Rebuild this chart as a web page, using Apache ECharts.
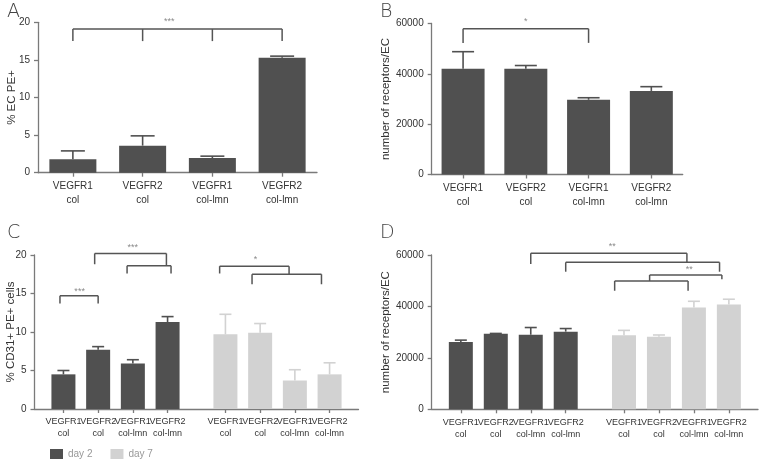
<!DOCTYPE html>
<html><head><meta charset="utf-8">
<script src="https://cdn.jsdelivr.net/npm/echarts@6/dist/echarts.min.js"></script>
<style>html,body{margin:0;padding:0;background:#fff}#c{width:759px;height:460px}</style>
</head><body><div id="c"></div>
<script>
// ---------- data ----------
const catsAB = ['VEGFR1\ncol', 'VEGFR2\ncol', 'VEGFR1\ncol-lmn', 'VEGFR2\ncol-lmn'];
const aMean  = [1.8, 3.6, 1.95, 15.3];
const aUpper = [2.9, 4.9, 2.2, 15.5];
const bMean  = [42000, 42000, 29700, 33200];
const bUpper = [48800, 43300, 30500, 34900];
const cDay2      = [4.5, 7.7, 5.9, 11.3];
const cDay2Upper = [5.0, 8.1, 6.4, 12.0];
const cDay7      = [9.7, 9.9, 3.7, 4.5];
const cDay7Upper = [12.3, 11.1, 5.1, 6.0];
const dDay2      = [26200, 29400, 29000, 30200];
const dDay2Upper = [26900, 29500, 31800, 31400];
const dDay7      = [28800, 28200, 39600, 40800];
const dDay7Upper = [30700, 28900, 42000, 42800];
const ticksPct = [0, 5, 10, 15, 20];
const ticksRec = [0, 20000, 40000, 60000];
const seriesNames = ['day 2', 'day 7'];
// group layout for C/D (slot index of each bar on a 28-slot category axis)
const slotsDay2 = [2, 5, 8, 11];
const slotsDay7 = [16, 19, 22, 25];
const nSlots = 28;
// significance brackets: [xFrom, xTo, yTop, [[xFoot, yFootBottom], ...]]
const bracketsA = [[0, 3, 19.1, [[0, 17.5], [1, 17.5], [2, 17.5], [3, 17.5]]]];
const starsA = [['***', 1.38, 20.1]];
const bracketsB = [[0, 2, 57900, [[0, 52300], [2, 52300]]]];
const starsB = [['*', 1.0, 60900]];
const bracketsC = [
  [1.7, 5.0, 14.7, [[1.7, 13.7], [5.0, 13.7]]],
  [4.7, 10.9, 20.2, [[4.7, 18.8], [10.9, 18.6]]],
  [7.5, 11.3, 18.6, [[7.5, 17.6], [11.3, 17.6]]],
  [15.5, 21.5, 18.55, [[15.5, 17.6], [21.5, 17.5]]],
  [18.3, 24.3, 17.5, [[18.3, 16.2], [24.3, 16.2]]]
];
const starsC = [['***', 3.4, 15.2], ['***', 8.0, 21.0], ['*', 18.6, 19.4]];
const bracketsD = [
  [8.0, 21.4, 60660, [[8.0, 56500], [21.4, 57160]]],
  [11.0, 24.2, 57160, [[11.0, 53500], [24.2, 53500]]],
  [18.2, 24.4, 52220, [[18.2, 49900], [24.4, 50550]]],
  [15.2, 21.5, 49900, [[15.2, 46100], [21.5, 46100]]]
];
const starsD = [['**', 15.0, 63300], ['**', 21.6, 54500]];

// ---------- helpers ----------
const DARK = '#505050', LIGHT = '#d2d2d2', AXIS = '#7a7a7a', TXT = '#333';
const FONT = "'Liberation Sans', Arial, sans-serif";

function slotCats(labels) {
  const cats = new Array(nSlots).fill('');
  slotsDay2.forEach((s, i) => cats[s] = labels[i]);
  slotsDay7.forEach((s, i) => cats[s] = labels[i]);
  return cats;
}
function slotData(slots, vals) {
  const d = new Array(nSlots).fill(null);
  slots.forEach((s, i) => d[s] = vals[i]);
  return d;
}
function xpix(api, s) {
  const i = Math.floor(s);
  const p0 = api.coord([i, 0])[0];
  const p1 = api.coord([i + 1, 0])[0];
  return p0 + (s - i) * (p1 - p0);
}
function errSeries(gi, xs, mean, upper, capHalf, color) {
  return {
    type: 'custom', xAxisIndex: gi, yAxisIndex: gi, silent: true, z: 3,
    data: xs.map((x, i) => [x, mean[i], upper[i]]),
    encode: {x: 0, y: [1, 2]},
    renderItem: (params, api) => {
      const a = api.coord([api.value(0), api.value(1)]);
      const b = api.coord([api.value(0), api.value(2)]);
      const st = {stroke: color, lineWidth: 1.6};
      return {type: 'group', children: [
        {type: 'line', shape: {x1: a[0], y1: a[1], x2: b[0], y2: b[1]}, style: st},
        {type: 'line', shape: {x1: b[0] - capHalf, y1: b[1], x2: b[0] + capHalf, y2: b[1]}, style: st}
      ]};
    }
  };
}
function bracketSeries(gi, brackets, stars) {
  const n = brackets.length;
  return {
    type: 'custom', xAxisIndex: gi, yAxisIndex: gi, silent: true, z: 4, clip: false,
    data: brackets.concat(stars).map(() => [0, 0]),
    renderItem: (params, api) => {
      const k = params.dataIndex;
      if (k < n) {
        const b = brackets[k];
        const y = api.coord([0, b[2]])[1];
        const st = {stroke: '#555', lineWidth: 1.5, fill: null};
        const ch = [{type: 'line', shape: {x1: xpix(api, b[0]), y1: y, x2: xpix(api, b[1]), y2: y}, style: st}];
        b[3].forEach(f => {
          const x = xpix(api, f[0]);
          ch.push({type: 'line', shape: {x1: x, y1: y, x2: x, y2: api.coord([0, f[1]])[1]}, style: st});
        });
        return {type: 'group', children: ch};
      }
      const s = stars[k - n];
      return {type: 'text', x: xpix(api, s[1]), y: api.coord([0, s[2]])[1],
        style: {text: s[0], fill: '#8a8a8a', fontSize: 9, fontFamily: FONT, align: 'center', verticalAlign: 'middle'}};
    }
  };
}
function yAxis(gi, ticks, name, gap) {
  return {
    type: 'value', gridIndex: gi, min: ticks[0], max: ticks[ticks.length - 1], interval: ticks[1] - ticks[0],
    name: name, nameLocation: 'middle', nameGap: gap, nameMoveOverlap: false,
    nameTextStyle: {fontSize: 11.5, color: TXT, fontFamily: FONT},
    axisLine: {show: true, lineStyle: {color: AXIS, width: 1.3}},
    axisTick: {show: true, length: 4, lineStyle: {color: AXIS, width: 1.3}},
    axisLabel: {fontSize: 10, color: TXT, fontFamily: FONT, margin: 8, formatter: v => String(v)},
    splitLine: {show: false}
  };
}
function xAxis(gi, cats, fs, lh) {
  return {
    type: 'category', gridIndex: gi, data: cats, boundaryGap: true,
    axisLine: {show: true, lineStyle: {color: AXIS, width: 1.3}},
    axisTick: {show: true, alignWithLabel: true, length: 4, lineStyle: {color: AXIS, width: 1.3},
      interval: (i, v) => v !== ''},
    axisLabel: {interval: 0, fontSize: fs, lineHeight: lh, color: TXT, fontFamily: FONT, margin: 7}
  };
}

const catsCD = slotCats(catsAB);
const idx4 = [0, 1, 2, 3];

const option = {
  animation: false,
  backgroundColor: '#fff',
  textStyle: {fontFamily: FONT},
  title: [
    {text: 'A', left: 2, top: -2},
    {text: 'B', left: 375, top: -2},
    {text: 'C', left: 2, top: 219},
    {text: 'D', left: 375, top: 219}
  ].map(t => Object.assign(t, {textStyle: {fontSize: 19, fontWeight: 'lighter', color: '#444', fontFamily: 'DejaVu Sans, sans-serif'}})),
  legend: {
    data: seriesNames, left: 45, top: 444, icon: 'rect', itemWidth: 13, itemHeight: 10, itemGap: 18,
    textStyle: {fontSize: 10, color: '#999', fontFamily: FONT}
  },
  grid: [
    {left: 38, top: 22.3, width: 279, height: 150.4},
    {left: 431.7, top: 23.5, width: 251, height: 151},
    {left: 34.5, top: 255, width: 324, height: 154},
    {left: 431.7, top: 255, width: 326.3, height: 154.3}
  ],
  xAxis: [
    xAxis(0, catsAB, 10, 14),
    xAxis(1, catsAB, 10, 14),
    xAxis(2, catsCD, 9, 12),
    xAxis(3, catsCD, 9, 12)
  ],
  yAxis: [
    yAxis(0, ticksPct, '% EC PE+', 20),
    yAxis(1, ticksRec, 'number of receptors/EC', 40),
    yAxis(2, ticksPct, '% CD31+ PE+ cells', 18),
    yAxis(3, ticksRec, 'number of receptors/EC', 40)
  ],
  series: [
    {type: 'bar', xAxisIndex: 0, yAxisIndex: 0, data: aMean, barWidth: 47, itemStyle: {color: DARK}},
    errSeries(0, idx4, aMean, aUpper, 12, DARK),
    bracketSeries(0, bracketsA, starsA),
    {type: 'bar', xAxisIndex: 1, yAxisIndex: 1, data: bMean, barWidth: 43, itemStyle: {color: DARK}},
    errSeries(1, idx4, bMean, bUpper, 11, DARK),
    bracketSeries(1, bracketsB, starsB),
    {name: seriesNames[0], type: 'bar', xAxisIndex: 2, yAxisIndex: 2, data: slotData(slotsDay2, cDay2), barWidth: 24, barGap: '-100%', itemStyle: {color: DARK}},
    {name: seriesNames[1], type: 'bar', xAxisIndex: 2, yAxisIndex: 2, data: slotData(slotsDay7, cDay7), barWidth: 24, barGap: '-100%', itemStyle: {color: LIGHT}},
    errSeries(2, slotsDay2, cDay2, cDay2Upper, 6, DARK),
    errSeries(2, slotsDay7, cDay7, cDay7Upper, 6, LIGHT),
    bracketSeries(2, bracketsC, starsC),
    {name: seriesNames[0], type: 'bar', xAxisIndex: 3, yAxisIndex: 3, data: slotData(slotsDay2, dDay2), barWidth: 24, barGap: '-100%', itemStyle: {color: DARK}},
    {name: seriesNames[1], type: 'bar', xAxisIndex: 3, yAxisIndex: 3, data: slotData(slotsDay7, dDay7), barWidth: 24, barGap: '-100%', itemStyle: {color: LIGHT}},
    errSeries(3, slotsDay2, dDay2, dDay2Upper, 6, DARK),
    errSeries(3, slotsDay7, dDay7, dDay7Upper, 6, LIGHT),
    bracketSeries(3, bracketsD, starsD)
  ]
};
echarts.init(document.getElementById('c'), null, {renderer: 'canvas'}).setOption(option);
</script></body></html>
